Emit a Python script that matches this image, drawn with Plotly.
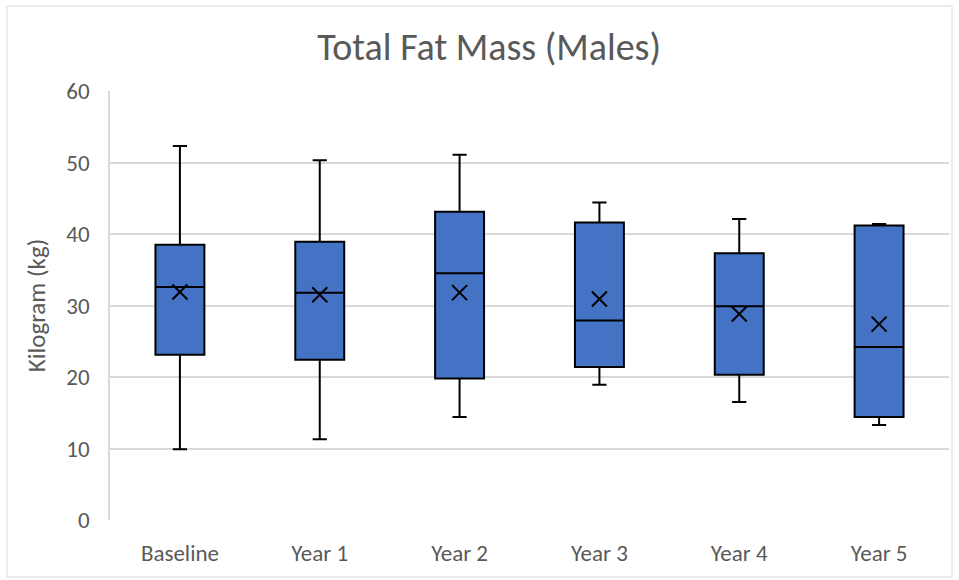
import plotly.graph_objects as go

# Total fat mass (kg) summary statistics for males at each visit
categories = ["Baseline", "Year 1", "Year 2", "Year 3", "Year 4", "Year 5"]
minimum = [9.9, 11.3, 14.4, 18.9, 16.5, 13.3]
q1 = [23.1, 22.4, 19.8, 21.4, 20.3, 14.4]
median = [32.6, 31.8, 34.5, 27.9, 29.9, 24.2]
q3 = [38.5, 38.9, 43.1, 41.6, 37.3, 41.2]
maximum = [52.3, 50.3, 51.1, 44.4, 42.1, 41.4]
mean = [31.9, 31.5, 31.8, 30.9, 28.8, 27.4]

y_ticks = [0, 10, 20, 30, 40, 50, 60]

FONT = "Carlito, Calibri, sans-serif"
TEXT_GREY = "#595959"

fig = go.Figure()

fig.add_trace(go.Box(
    x=categories,
    q1=q1,
    median=median,
    q3=q3,
    lowerfence=minimum,
    upperfence=maximum,
    boxpoints=False,
    fillcolor="#4472C4",
    line=dict(color="#000000", width=2),
    whiskerwidth=0.29,
    showlegend=False,
    hoverinfo="skip",
))

fig.add_trace(go.Scatter(
    x=categories,
    y=mean,
    mode="markers",
    marker=dict(symbol="x-thin", size=15, line=dict(color="#000000", width=2)),
    showlegend=False,
    hoverinfo="skip",
))

# light grey frame around the whole chart
L, R, T, B = 110, 949, 91, 520
def px_x(p):
    return (p - L) / (R - L)
def px_y(p):
    return (B - p) / (B - T)

fig.add_shape(type="rect", xref="paper", yref="paper",
              x0=px_x(7), x1=px_x(952), y0=px_y(577), y1=px_y(6),
              line=dict(color="#d9d9d9", width=1), fillcolor="rgba(0,0,0,0)",
              layer="below")

fig.update_layout(
    width=959, height=580,
    margin=dict(l=L, r=959 - R, t=T, b=580 - B),
    paper_bgcolor="white",
    plot_bgcolor="white",
    boxgap=0.5,
    title=dict(text="Total Fat Mass (Males)", x=0.510, xref="container",
               xanchor="center", y=1 - 47 / 580, yanchor="middle",
               font=dict(family=FONT, size=38, color=TEXT_GREY)),
    font=dict(family=FONT, color=TEXT_GREY, size=22),
)

fig.update_xaxes(
    showgrid=False, zeroline=False, showline=False,
    tickfont=dict(family=FONT, size=23, color=TEXT_GREY),
    ticks="outside", ticklen=12, tickcolor="rgba(0,0,0,0)",
)

fig.update_yaxes(
    range=[0, 60], tickvals=y_ticks,
    showgrid=True, gridcolor="#d9d9d9", gridwidth=1.5,
    zeroline=False, showline=True, linecolor="#d9d9d9", linewidth=1.5,
    tickfont=dict(family=FONT, size=23, color=TEXT_GREY),
    ticks="outside", ticklen=14, tickcolor="rgba(0,0,0,0)",
    title_text="Kilogram (kg)",
    title_font=dict(family=FONT, size=25, color=TEXT_GREY),
    title_standoff=14,
)

fig.write_html("out.html")
